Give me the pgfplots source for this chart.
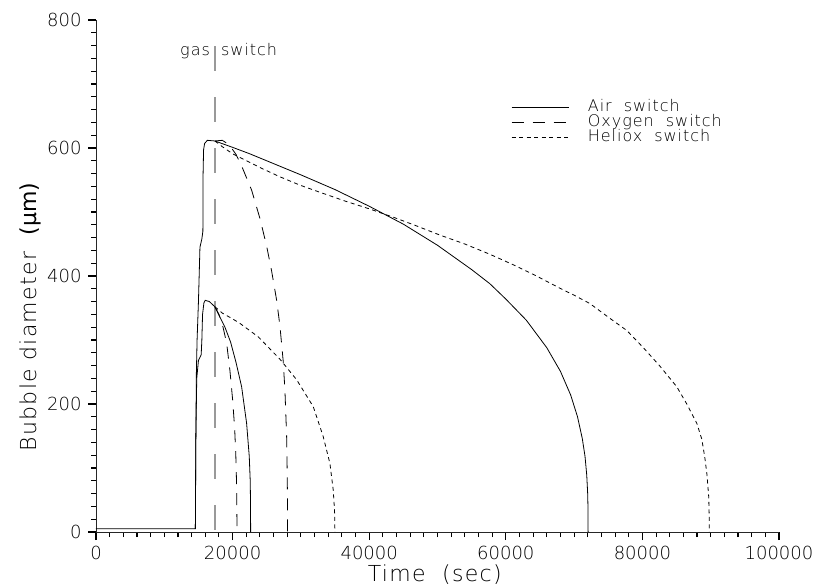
\documentclass[border=0pt]{standalone}
\usepackage{fontspec}
\setmainfont{DejaVu Sans ExtraLight}
\newfontfamily\spaced{DejaVu Sans ExtraLight}[LetterSpace=6]
\usepackage{pgfplots}
\pgfplotsset{compat=1.18}

\pgfplotsset{
  frame/.style={
    at={(0,0)}, anchor=south west,
    scale only axis, width=683bp, height=512bp,
    xmin=0, xmax=100000, ymin=0, ymax=800,
    axis x line*=bottom, axis y line*=left,
    axis line style={line width=0.8bp, black!85},
    scaled x ticks=false, scaled y ticks=false,
    xtick align=outside, ytick align=outside,
    x tick style={line width=1.1bp, black},
    y tick style={line width=1.1bp, black},
  }
}

\begin{document}
\begin{tikzpicture}
\useasboundingbox (-96bp,-55bp) rectangle (732bp,532bp);

% short unlabelled ticks every 2000 s and every 20 um
\begin{axis}[frame,
  xtick={2000,4000,6000,8000,10000,12000,14000,16000,18000,
         22000,24000,26000,28000,30000,32000,34000,36000,38000,
         42000,44000,46000,48000,50000,52000,54000,56000,58000,
         62000,64000,66000,68000,70000,72000,74000,76000,78000,
         82000,84000,86000,88000,90000,92000,94000,96000,98000},
  ytick={20,40,...,780},
  xticklabels={}, yticklabels={},
  major tick length=5bp,
]
\end{axis}

\begin{axis}[frame,
  xtick={0,20000,40000,60000,80000,100000},
  xticklabels={0,20000,40000,60000,80000,100000},
  ytick={0,200,400,600,800},
  yticklabels={0,200,400,600,800},
  major tick length=8bp,
  tick label style={font=\fontsize{18bp}{20bp}\selectfont},
  xticklabel style={yshift=-3bp},
  yticklabel style={xshift=-3bp},
  xlabel={Time\ \ (sec)},
  ylabel={Bubble diameter\ \ {\fontspec{DejaVu Sans}(µm)}},
  label style={font=\fontsize{22bp}{24bp}\spaced},
  xlabel style={at={(axis description cs:0.496,0)}, anchor=north, yshift=-29bp},
  ylabel style={at={(axis description cs:-0.0966,0.42)}, anchor=center},
  clip=false,
  legend cell align=left,
  legend style={at={(axis description cs:0.6075,0.845)}, anchor=north west,
    draw=none, fill=none, inner sep=0pt, row sep=0bp,
    font=\fontsize{16bp}{17bp}\spaced,
    nodes={inner xsep=19bp, inner ysep=0.5bp, text height=11bp, text depth=3bp}},
  legend image code/.code={\draw[#1] (0bp,0bp) -- (57bp,0bp);},
]

% gas switch marker
\addplot[black!40, line width=1.5bp, dash pattern=on 25bp off 26bp, forget plot]
  coordinates {(17400,759) (17400,0)};
\node[anchor=base east, font=\fontsize{16bp}{17bp}\spaced, inner sep=0pt]
  at (axis cs:16700,744) {gas};
\node[anchor=base west, font=\fontsize{16bp}{17bp}\spaced, inner sep=0pt]
  at (axis cs:18300,744) {switch};

% Air switch: large bubble (with growth phase)
\addplot[black, line width=0.8bp] coordinates {
  (0,5) (14550,5) (14600,120) (14700,250) (14800,300) (15000,360)
  (15220,445) (15500,458) (15650,470) (15680,560) (15750,597) (15900,607)
  (16300,612) (17400,611) (20000,601) (22500,591) (25000,580) (27500,569)
  (30000,558) (35000,535) (40000,509) (45000,481) (50000,448) (55000,410)
  (57660,388) (60000,364) (63000,331) (66000,288) (68000,251) (69500,214)
  (70500,180) (71200,146) (71600,118) (71850,89) (71980,62) (72030,40) (72050,0)};
\addlegendentry{Air\ \ switch}

% Oxygen switch: large bubble
\addplot[black, line width=0.8bp, dash pattern=on 12bp off 9bp] coordinates {
  (17400,611) (18500,612) (19500,605) (20500,590) (21320,572) (22790,534)
  (24000,490) (24980,447) (25710,408) (26450,362) (26930,322) (27400,268)
  (27660,222) (27910,150) (28000,90) (28040,40) (28050,0)};
\addlegendentry{Oxygen\ \ switch}

% Heliox switch: large bubble
\addplot[black, line width=0.8bp, dash pattern=on 4bp off 3.5bp] coordinates {
  (17400,611) (18500,602) (20000,591) (22050,580) (24500,567) (26930,555)
  (29850,542) (33000,530) (36500,517) (40000,505) (43760,491) (47000,478)
  (50340,464) (54000,450) (57660,434) (61000,418) (64500,400) (67900,381)
  (70000,370) (72300,357) (75220,334) (77700,315) (80050,289) (82500,260)
  (85030,227) (86500,200) (87960,170) (88700,145) (89130,117) (89450,90)
  (89710,55) (89780,25) (89800,0)};
\addlegendentry{Heliox\ \ switch}

% small bubble
\addplot[black, line width=0.8bp, forget plot] coordinates {
  (14550,5) (14620,150) (14750,240) (15000,268) (15400,277) (15500,300)
  (15600,340) (15800,358) (16000,362) (16600,360) (17400,352) (18880,320)
  (19700,297) (20500,265) (21320,227) (22050,170) (22440,118) (22580,80)
  (22625,45) (22640,0)};
\addplot[black, line width=0.8bp, dash pattern=on 12bp off 9bp, forget plot] coordinates {
  (17400,352) (18000,340) (18600,320) (19130,295) (19610,252) (20010,206)
  (20300,162) (20470,120) (20570,80) (20620,45) (20640,0)};
\addplot[black, line width=0.8bp, dash pattern=on 4bp off 3.5bp, forget plot] coordinates {
  (17400,352) (18500,342) (20000,333) (21070,326) (23750,305) (26930,270)
  (29370,238) (31800,196) (33270,149) (34250,107) (34730,66) (34930,33)
  (34980,0)};

\end{axis}
\end{tikzpicture}
\end{document}
